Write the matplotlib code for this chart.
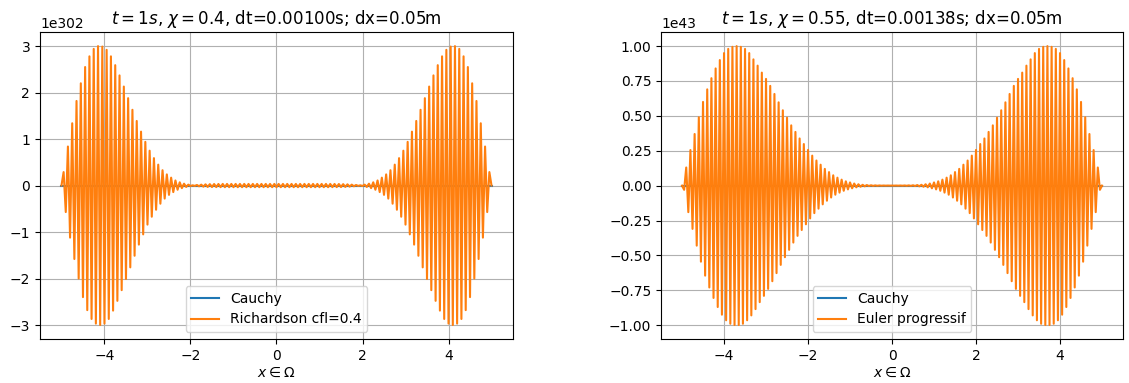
#!/usr/bin/env python3
# plot_schemes.py

import matplotlib
matplotlib.use("Agg")
import matplotlib.pyplot as plt
import numpy as np

# grid: dx = 0.05 on [-5, 5]
x = np.linspace(-5, 5, 201)

# Richardson cfl=0.4, values in units of 1e302
richardson = [
    0, 0.29, -0.57, 0.84, -1.12, 1.34, -1.58, 1.82, -2.00, 2.20,
    -2.40, 2.55, -2.68, 2.78, -2.87, 2.94, -2.97, 3.00, -3.00, 2.99,
    -2.97, 2.92, -2.87, 2.78, -2.69, 2.59, -2.48, 2.37, -2.25, 2.13,
    -2.01, 1.88, -1.76, 1.63, -1.51, 1.39, -1.27, 1.16, -1.05, 0.94,
    -0.84, 0.75, -0.67, 0.59, -0.52, 0.45, -0.39, 0.33, -0.28, 0.24,
    -0.20, 0.17, -0.14, 0.11, -0.09, 0.07, -0.055, 0.04, -0.03, 0.02,
    -0.01, 0.005, -0.008, 0.012, -0.016, 0.02, -0.024, 0.027, -0.03, 0.031,
    -0.032, 0.033, -0.033, 0.034, -0.034, 0.035, -0.035, 0.035, -0.035, 0.035,
    -0.035, 0.035, -0.035, 0.035, -0.035, 0.035, -0.035, 0.035, -0.035, 0.035,
    -0.035, 0.035, -0.035, 0.035, -0.035, 0.035, -0.035, 0.035, -0.035, 0.035,
    -0.035,
    0.035, -0.035, 0.035, -0.035, 0.035, -0.035, 0.035, -0.035, 0.035, -0.035,
    0.035, -0.035, 0.035, -0.035, 0.035, -0.035, 0.035, -0.035, 0.035, -0.035,
    0.035, -0.035, 0.035, -0.035, 0.035, -0.034, 0.034, -0.033, 0.033, -0.032,
    0.031, -0.03, 0.027, -0.024, 0.02, -0.016, 0.012, -0.008, 0.005, -0.01,
    0.02, -0.03, 0.04, -0.055, 0.07, -0.09, 0.11, -0.14, 0.17, -0.20,
    0.24, -0.28, 0.33, -0.39, 0.45, -0.52, 0.59, -0.67, 0.75, -0.84,
    0.94, -1.05, 1.16, -1.27, 1.39, -1.51, 1.63, -1.76, 1.88, -2.01,
    2.13, -2.25, 2.37, -2.48, 2.59, -2.69, 2.78, -2.87, 2.92, -2.97,
    2.99, -3.00, 3.00, -2.97, 2.94, -2.87, 2.78, -2.68, 2.55, -2.40,
    2.20, -2.00, 1.82, -1.58, 1.34, -1.12, 0.84, -0.57, 0.29, 0,
]

# Euler progressif, values in units of 1e43
euler = [
    0, -0.03, 0.13, -0.19, 0.255, -0.31, 0.37, -0.43, 0.49, -0.545,
    0.60, -0.645, 0.69, -0.73, 0.77, -0.805, 0.84, -0.87, 0.90, -0.925,
    0.95, -0.965, 0.98, -0.99, 0.995, -0.999, 1.00, -0.999, 0.995, -0.99,
    0.98, -0.965, 0.95, -0.93, 0.905, -0.885, 0.86, -0.835, 0.81, -0.79,
    0.765, -0.74, 0.715, -0.685, 0.657, -0.627, 0.597, -0.568, 0.54, -0.513,
    0.487, -0.46, 0.432, -0.408, 0.385, -0.36, 0.338, -0.318, 0.298, -0.277,
    0.256, -0.235, 0.215, -0.197, 0.18, -0.165, 0.15, -0.134, 0.12, -0.108,
    0.097, -0.085, 0.074, -0.065, 0.057, -0.05, 0.043, -0.037, 0.031, -0.027,
    0.023, -0.019, 0.015, -0.012, 0.01, -0.008, 0.006, -0.005, 0.004, -0.003,
    0.0025, -0.002, 0.0016, -0.0013, 0.001, -0.0008, 0.0006, -0.0005, 0.0004, -0.0003,
    0.0003,
    -0.0003, 0.0004, -0.0005, 0.0006, -0.0008, 0.001, -0.0013, 0.0016, -0.002, 0.0025,
    -0.003, 0.004, -0.005, 0.006, -0.008, 0.01, -0.012, 0.015, -0.019, 0.023,
    -0.027, 0.031, -0.037, 0.043, -0.05, 0.057, -0.065, 0.074, -0.085, 0.097,
    -0.108, 0.12, -0.134, 0.15, -0.165, 0.18, -0.197, 0.215, -0.235, 0.256,
    -0.277, 0.298, -0.318, 0.338, -0.36, 0.385, -0.408, 0.432, -0.46, 0.487,
    -0.513, 0.54, -0.568, 0.597, -0.627, 0.657, -0.685, 0.715, -0.74, 0.765,
    -0.79, 0.81, -0.835, 0.86, -0.885, 0.905, -0.93, 0.95, -0.965, 0.98,
    -0.99, 0.995, -0.999, 1.00, -0.999, 0.995, -0.99, 0.98, -0.965, 0.95,
    -0.925, 0.90, -0.87, 0.84, -0.805, 0.77, -0.73, 0.69, -0.645, 0.60,
    -0.545, 0.49, -0.43, 0.37, -0.31, 0.255, -0.19, 0.13, -0.03, 0,
]

# exact (Cauchy) solution is ~0 at these scales
cauchy = np.zeros_like(x)


def plot(ax, scheme, label, title):
    ax.plot(x, cauchy, label="Cauchy")
    ax.plot(x, scheme, label=label)
    ax.set_title(title)
    ax.set_xlabel(r"$x \in \Omega$", labelpad=2)
    ax.legend(loc="lower center")
    ax.grid(True)


def main():
    fig = plt.figure(figsize=(11.29, 3.83), dpi=100)

    ax1 = fig.add_axes([0.0354, 0.115, 0.4190, 0.801])
    plot(ax1, np.array(richardson) * 1e302, "Richardson cfl=0.4",
         r"$t = 1s$, $\chi = 0.4$, dt=0.00100s; dx=0.05m")

    ax2 = fig.add_axes([0.5855, 0.115, 0.4092, 0.801])
    plot(ax2, np.array(euler) * 1e43, "Euler progressif",
         r"$t = 1s$, $\chi = 0.55$, dt=0.00138s; dx=0.05m")

    fig.savefig("out.png", dpi=100)


if __name__ == "__main__":
    main()
